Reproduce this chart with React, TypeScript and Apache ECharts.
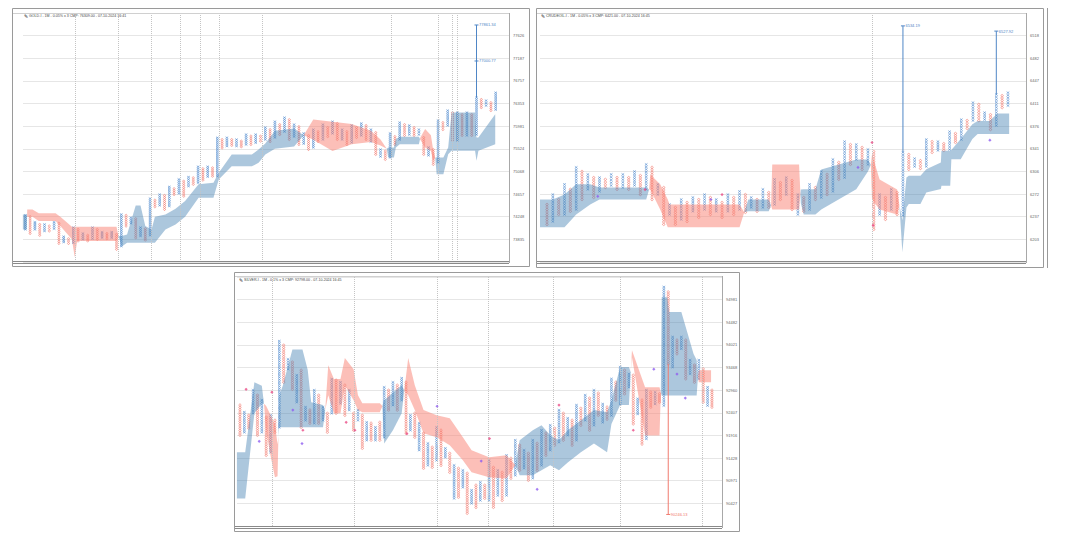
import React, { useEffect, useRef } from "react";
import * as echarts from "echarts";

// ---------------- GOLD ----------------
const goldTitle = "GOLD-I - 1M - 0.05% x 3 CMP: 76309.00 - 07-10-2024 16:41";
const goldTicks = ["73835", "74248", "74657", "75068", "75524", "75981", "76353", "76757", "77187", "77626"];
const goldTag = "76414.0";
const goldTagRow = 6.38;
const goldFirstType = 1; // 1 = X, 0 = O
const goldHigh = [1.06, 1.0, 0.76, 0.66, 0.66, 0.59, 0.76, 0.71, 0.12, 0.03, 0.52, 0.44, 0.26, 0.18, 0.52, 0.44, 0.32, 0.26, 0.32, 0.22, 1.1, 1.06, 0.96, 0.91, 0.52, 0.47, 1.8, 1.73, 1.98, 1.94, 2.32, 2.24, 2.65, 2.57, 2.75, 2.72, 3.21, 3.12, 3.21, 3.16, 4.49, 4.41, 4.49, 4.41, 4.41, 4.34, 4.63, 4.56, 4.63, 4.56, 4.94, 4.85, 5.2, 5.07, 5.38, 5.29, 5.07, 4.98, 4.68, 4.59, 4.85, 4.76, 5.07, 4.94, 5.2, 5.12, 4.85, 4.76, 5.03, 4.94, 5.12, 5.03, 4.85, 4.72, 3.97, 3.9, 4.68, 4.54, 5.16, 5.07, 5.03, 4.94, 4.85, 4.5, 4.06, 3.97, 5.25, 5.16, 5.69, 5.6, 5.6, 5.51, 5.6, 5.51, 6.26, 6.18, 6.13, 6.04, 6.48];
const goldLow = [0.44, 0.26, 0.44, 0.18, 0.37, 0.37, 0.47, -0.18, -0.12, -0.18, -0.15, -0.07, 0, -0.07, 0.03, 0, 0.07, 0.03, 0.07, -0.44, -0.3, 0.59, 0.71, 0.07, 0.15, -0.03, 0.18, 1.44, 1.5, 1.32, 1.47, 1.98, 2.03, 1.91, 2.35, 2.43, 2.5, 2.62, 2.77, 2.79, 2.79, 4.04, 4.12, 4.15, 4.12, 4.09, 4.19, 4.19, 4.27, 4.34, 4.41, 4.32, 4.5, 4.63, 4.76, 4.41, 4.54, 4.19, 4.23, 3.97, 4.06, 4.32, 4.41, 4.54, 4.68, 4.41, 4.41, 4.19, 4.28, 4.5, 4.59, 4.41, 4.32, 3.75, 3.66, 3.53, 3.62, 4.19, 4.41, 4.59, 4.63, 4.59, 4.63, 3.75, 3.71, 3.31, 3.4, 4.85, 5.03, 4.37, 4.37, 4.59, 4.59, 4.59, 4.63, 5.82, 5.91, 5.69, 5.73];
const goldCloudX = [-0.5, 0.3, 0.4, 1.5, 2.8, 6.3, 7.3, 9.7, 10.3, 10.8, 19.0, 19.4, 20.1, 21.2, 23, 24, 25, 26.3, 27, 29.2, 31.3, 33.3, 36.1, 39.2, 40.3, 43, 47.2, 48.6, 50, 52, 56, 58, 60, 64, 68, 72, 74, 75.3, 75.6, 76.8, 77.2, 78, 82, 82.3, 83.3, 84.5, 85, 85.4, 85.7, 87.1, 88.1, 88.8, 93.7, 94.0, 94.4, 97.9];
const goldSpanA = [1.1, 1.1, 1.0, 1.0, 0.81, 0.81, 0.59, 0.0, -0.79, -0.07, -0.07, 0.15, 0.15, 0.22, 1.5, 1.5, 0.59, 0.44, 1.0, 1.1, 1.35, 1.69, 2.43, 2.5, 2.94, 3.75, 3.75, 3.97, 4.23, 4.8, 4.9, 4.6, 4.4, 3.9, 4.2, 4.3, 4.15, 4.0, 4.06, 4.06, 4.43, 4.53, 4.53, 4.4, 4.06, 3.9, 3.47, 3.6, 3.62, 3.62, 4.06, 5.6, 5.6, 4.5, 4.5, 5.53];
const goldSpanB = [0.44, 0.44, 1.32, 1.32, 1.15, 1.15, 1.0, 0.56, 0.56, 0.56, 0.56, 0.15, -0.32, -0.15, -0.15, -0.15, -0.15, -0.15, -0.15, 0.44, 0.66, 1.0, 1.84, 1.84, 2.65, 3.23, 3.23, 3.38, 3.75, 4.0, 4.1, 4.6, 5.3, 5.2, 5.1, 4.8, 4.41, 4.0, 3.62, 3.62, 4.06, 4.2, 4.2, 4.5, 4.87, 4.6, 3.91, 3.6, 2.88, 2.88, 3.76, 3.91, 3.91, 3.47, 3.91, 4.2];
const goldMonthCols = [10.35, 19.3, 26.2, 32.2, 36.4, 40.4, 49.3, 76.2, 86, 88.9, 89.9];
const goldTargetLines = [[94, 6.26, 9.47]];
const goldTargetTicks: [number, number, string][] = [[94, 9.47, "77861.34"], [94, 7.88, "77000.77"]];
const goldSignals: [number, number, number][] = [];

// ---------------- CRUDE OIL ----------------
const crudeTitle = "CRUDEOIL-I - 1M - 0.05% x 3 CMP: 6421.00 - 07-10-2024 16:45";
const crudeTicks = ["6203", "6237", "6272", "6306", "6341", "6376", "6411", "6447", "6482", "6518"];
const crudeTag = "6427.00";
const crudeTagRow = 6.38;
const crudeFirstType = 0;
const crudeHigh = [1.54, 1.98, 1.76, 2.43, 2.21, 3.18, 3.0, 2.87, 2.73, 2.73, 2.65, 2.87, 2.73, 2.87, 2.73, 3.0, 2.82, 3.31, 3.18, 2.43, 2.29, 1.54, 1.41, 1.76, 1.63, 1.85, 1.76, 1.98, 1.85, 1.76, 1.63, 1.98, 1.85, 2.12, 1.98, 1.85, 1.76, 2.21, 2.07, 2.65, 2.51, 2.73, 2.6, 1.98, 1.85, 2.43, 2.29, 3.0, 2.87, 3.53, 3.4, 4.32, 4.19, 4.19, 4.06, 3.97, 3.88, 1.98, 1.85, 2.21, 2.07, 3.84, 3.75, 3.57, 3.48, 4.41, 4.32, 4.32, 4.23, 4.76, 4.68, 5.29, 5.25, 6.04, 5.96, 5.6, 5.51, 6.4, 6.35, 6.48];
const crudeLow = [0.66, 0.79, 1.1, 1.1, 1.24, 1.32, 1.76, 2.21, 1.85, 2.12, 2.29, 2.38, 2.21, 2.29, 2.21, 2.38, 1.98, 2.21, 1.76, 1.98, 0.66, 1.1, 0.66, 0.88, 0.79, 1.24, 0.97, 1.32, 1.1, 1.24, 0.97, 1.24, 1.1, 1.32, 1.19, 1.41, 1.24, 1.41, 1.41, 1.54, 1.76, 1.98, 1.32, 1.1, 1.24, 1.32, 1.76, 1.85, 1.98, 2.12, 2.65, 2.73, 3.31, 3.53, 3.09, 3.31, 0.44, 1.1, 0.88, 1.32, 1.1, 1.06, 3.09, 3.22, 3.13, 3.22, 3.84, 3.93, 3.93, 3.97, 4.28, 4.41, 4.9, 5.25, 5.25, 5.29, 4.85, 5.03, 5.82, 5.91];
const crudeCloudX = [-1.2, 1, 3, 5, 7.4, 9, 17, 17.5, 17.7, 19.4, 20.7, 21, 33, 33.8, 34.5, 38, 38.4, 38.6, 43.2, 43.5, 44, 46, 47, 53, 55, 55.5, 55.7, 57, 60, 60.4, 60.9, 61.6, 62, 64, 65, 67.5, 67.6, 69.1, 69.3, 70.9, 72.9, 73.8, 75.8, 77.2, 79.2];
const crudeSpanA = [1.76, 1.76, 1.98, 2.43, 2.43, 2.29, 2.29, 2.2, 2.2, 1.32, 0.53, 0.53, 0.53, 1.2, 1.76, 1.76, 1.5, 1.32, 1.32, 2.2, 2.21, 2.21, 3.09, 3.53, 3.53, 3.3, 1.76, 1.32, 1.1, 1.5, 0.84, 2.73, 2.81, 2.81, 3.1, 3.4, 3.91, 3.91, 3.95, 4.43, 5.09, 5.23, 5.23, 5.56, 5.56];
const crudeSpanB = [0.53, 0.53, 0.53, 1.1, 1.54, 1.76, 1.76, 2.2, 2.87, 2.43, 1.76, 1.54, 1.54, 1.2, 1.24, 1.24, 1.5, 3.31, 3.31, 1.6, 1.1, 1.1, 1.32, 2.21, 3.0, 3.3, 3.75, 2.65, 2.2, 1.5, -0.57, 1.41, 1.56, 1.56, 2.07, 2.22, 2.37, 2.37, 3.54, 3.54, 4.43, 4.65, 4.65, 4.65, 4.65];
const crudeMonthCols = [55.7];
const crudeTargetLines = [[61, 3.84, 9.43], [77, 6.4, 9.2]];
const crudeTargetTicks: [number, number, string][] = [[61, 9.43, "6534.19"], [77, 9.2, "6527.92"]];
// [column, row, kind] kind 0 = pink, 1 = purple
const crudeSignals: [number, number, number][] = [[8.7, 1.9, 1], [16.8, 2.2, 0], [28.1, 1.76, 1], [30, 1.98, 0], [53.3, 3.18, 1], [55.7, 4.28, 0], [55.9, 0.62, 0], [75.9, 4.38, 1]];

// ---------------- SILVER ----------------
const silverTitle = "SILVER-I - 1M - 0.1% x 3 CMP: 92798.00 - 07-10-2024 16:45";
const silverTicks = ["90427", "90971", "91428", "91916", "92407", "92960", "93468", "94021", "94482", "94981"];
const silverTag = "92623.0";
const silverTagRow = 4.2;
const silverFirstType = 0;
const silverHigh = [4.34, 4.03, 3.89, 5.0, 4.78, 4.56, 3.81, 3.89, 3.67, 7.17, 6.99, 6.37, 6.24, 5.66, 5.88, 4.25, 4.12, 5.0, 4.78, 4.25, 3.98, 5.49, 5.44, 5.35, 5.22, 5.0, 3.98, 4.12, 3.89, 3.58, 3.54, 3.36, 3.58, 5.13, 5.0, 5.35, 5.22, 5.53, 5.35, 3.89, 3.98, 3.54, 3.1, 2.65, 2.48, 3.36, 3.23, 2.43, 2.21, 1.68, 1.55, 1.46, 1.33, 0.58, 0.8, 0.93, 0.8, 1.9, 1.59, 1.46, 1.37, 2.12, 1.99, 2.79, 2.57, 2.35, 2.21, 2.79, 2.65, 3.23, 3.1, 3.45, 3.32, 4.12, 3.98, 3.76, 3.67, 4.34, 4.2, 4.78, 4.65, 5.0, 4.87, 4.39, 4.25, 5.5, 5.35, 6.02, 5.88, 5.72, 5.66, 4.62, 4.56, 5.0, 4.91, 4.91, 4.84, 9.56, 9.34, 7.35, 7.21, 7.35, 7.21, 6.33, 6.11, 6.33, 5.94, 5.13, 5.0];
const silverLow = [3.01, 3.14, 3.32, 3.98, 3.01, 3.14, 2.12, 2.26, 3.14, 3.36, 5.35, 5.93, 5.04, 4.47, 3.36, 3.67, 3.54, 3.54, 3.54, 3.67, 3.14, 3.98, 3.98, 4.42, 3.89, 4.12, 3.23, 3.67, 2.43, 2.79, 2.79, 2.79, 2.79, 2.92, 4.12, 4.34, 4.12, 4.56, 3.1, 3.23, 2.92, 2.35, 1.55, 1.68, 1.59, 1.9, 1.68, 2.04, 1.37, 0.22, 0.27, 0.71, -0.44, 0, -0.18, 0.13, 0.22, 0.13, -0.18, 0.35, 0.13, 0.35, 1.11, 1.24, 1.46, 1.55, 1.02, 1.11, 1.46, 1.68, 2.12, 2.35, 2.57, 2.7, 2.79, 3.01, 2.57, 2.79, 3.45, 3.67, 3.23, 3.45, 3.89, 3.58, 3.72, 3.88, 4.56, 4.39, 4.84, 5.13, 3.51, 3.95, 2.62, 2.85, 4.25, 4.39, 4.47, 4.32, 6.16, 6.02, 6.61, 6.83, 5.5, 5.72, 5.35, 5.5, 4.47, 4.32, 4.25];
const silverCloudX = [0.3, 2.2, 4.3, 6, 6.5, 7, 8, 9, 9.6, 10, 10.8, 13, 15.3, 16.5, 17.3, 20, 20.5, 21.2, 22.5, 24, 25, 27, 28, 29, 33, 33.6, 34, 36, 38, 38.6, 39.5, 41, 43, 46, 49, 52, 54, 58, 62, 64, 65, 68, 70, 72, 74, 76, 79, 82, 85, 86, 88, 90, 90.4, 90.7, 93.7, 97.0, 97.3, 97.5, 98.8, 99.2, 102, 104.8, 105.5, 105.8, 106, 108.8];
const silverSpanA = [2.26, 2.26, 5.35, 5.2, 4.4, 3.2, 2.1, 1.15, 1.2, 4.78, 5.2, 6.8, 6.8, 5.9, 4.47, 4.34, 4.1, 4.78, 3.98, 3.98, 5.22, 4.56, 4.12, 4.03, 4.03, 4.3, 4.56, 4.9, 5.22, 5.0, 4.78, 4.12, 3.1, 2.92, 2.57, 1.9, 1.37, 1.15, 1.1, 1.7, 2.79, 3.23, 3.45, 3.01, 2.79, 3.23, 3.67, 4.12, 4.03, 4.56, 6.02, 6.02, 5.8, 6.46, 3.0, 3.0, 4.9, 9.1, 9.1, 8.45, 8.45, 6.6, 6.33, 5.6, 5.35, 5.35];
const silverSpanB = [0.22, 0.22, 3.98, 4.4, 4.4, 4.3, 3.9, 3.5, 2.6, 3.36, 3.36, 3.36, 3.36, 3.36, 3.36, 3.36, 4.1, 6.1, 5.49, 5.49, 6.42, 5.93, 4.78, 4.42, 4.42, 4.3, 2.65, 3.23, 3.98, 5.0, 6.42, 5.22, 4.12, 3.89, 3.76, 2.92, 2.35, 2.04, 2.12, 1.7, 1.24, 1.24, 1.46, 1.68, 1.46, 1.81, 2.26, 2.65, 2.26, 3.51, 4.34, 4.34, 5.8, 6.76, 5.13, 5.13, 4.9, 4.76, 4.76, 4.76, 4.76, 4.76, 4.76, 5.6, 5.88, 5.88];
const silverMonthCols = [8.3, 27.1, 46.1, 57.8, 72.6, 88.0, 106.7];
const silverTargetLines = [[99, 6.16, -0.49]];
const silverTargetTicks: [number, number, string][] = [[99, -0.49, "90246.13"]];
const silverSignals: [number, number, number][] = [[2.4, 5.04, 0], [5.4, 2.74, 1], [8.3, 4.91, 0], [13.1, 4.12, 1], [15.4, 3.23, 0], [15.2, 2.64, 1], [25.3, 3.58, 0], [27.3, 3.23, 0], [39.2, 3.08, 0], [46.1, 4.29, 1], [56.2, 1.87, 1], [58.1, 2.86, 0], [69, 0.62, 1], [74, 4.34, 0], [91, 3.23, 0], [95.7, 5.93, 1], [101, 5.71, 1], [102.9, 4.65, 1]];

// ---------------- styling / layout ----------------
const X_COLOR = "#4a86cc";
const O_COLOR = "#f2756a";
const CLOUD_UP = "rgba(70,130,180,0.45)";
const CLOUD_DN = "rgba(250,128,114,0.5)";
const FONT = "Liberation Sans, Arial, sans-serif";

type PanelCfg = {
  title: string;
  ticks: string[];
  tag: string;
  tagRow: number;
  firstType: number;
  start: number;
  high: number[];
  low: number[];
  cloudX: number[];
  spanA: number[];
  spanB: number[];
  months: number[];
  targetLines: number[][];
  targetTicks: [number, number, string][];
  signals: [number, number, number][];
  box: number;
  targetColor: string;
  grid: { left: number; top: number; width: number; height: number };
  xMin: number;
  xMax: number;
};

const panels: PanelCfg[] = [
  {
    title: goldTitle, ticks: goldTicks, tag: goldTag, tagRow: goldTagRow, firstType: goldFirstType, start: 0,
    high: goldHigh, low: goldLow, cloudX: goldCloudX, spanA: goldSpanA, spanB: goldSpanB, months: goldMonthCols,
    targetLines: goldTargetLines, targetTicks: goldTargetTicks, signals: goldSignals, box: 0.09, targetColor: "#4f86c6",
    grid: { left: 23, top: 13, width: 486, height: 249 }, xMin: -0.48, xMax: 100.77,
  },
  {
    title: crudeTitle, ticks: crudeTicks, tag: crudeTag, tagRow: crudeTagRow, firstType: crudeFirstType, start: 0,
    high: crudeHigh, low: crudeLow, cloudX: crudeCloudX, spanA: crudeSpanA, spanB: crudeSpanB, months: crudeMonthCols,
    targetLines: crudeTargetLines, targetTicks: crudeTargetTicks, signals: crudeSignals, box: 0.11, targetColor: "#4f86c6",
    grid: { left: 540, top: 13, width: 486, height: 249 }, xMin: -1.2, xMax: 82.09,
  },
  {
    title: silverTitle, ticks: silverTicks, tag: silverTag, tagRow: silverTagRow, firstType: silverFirstType, start: 1,
    high: silverHigh, low: silverLow, cloudX: silverCloudX, spanA: silverSpanA, spanB: silverSpanB, months: silverMonthCols,
    targetLines: silverTargetLines, targetTicks: silverTargetTicks, signals: silverSignals, box: 0.1, targetColor: "#f07a6e",
    grid: { left: 237, top: 277, width: 485, height: 249 }, xMin: 0.32, xMax: 111.3,
  },
];

function cloudRuns(xs: number[], as: number[], bs: number[]) {
  const runs: { up: boolean; pts: number[][] }[] = [];
  let cur: { up: boolean; pts: number[][] } | null = null;
  for (let i = 0; i < xs.length; i++) {
    const d = as[i] - bs[i];
    if (i > 0) {
      const dp = as[i - 1] - bs[i - 1];
      if (dp * d < 0) {
        const t = dp / (dp - d);
        const xm = xs[i - 1] + t * (xs[i] - xs[i - 1]);
        const am = as[i - 1] + t * (as[i] - as[i - 1]);
        if (cur) cur.pts.push([xm, am, am]);
        cur = { up: d > 0, pts: [[xm, am, am]] };
        runs.push(cur);
      }
    }
    const up = d > 0 ? true : d < 0 ? false : cur ? cur.up : true;
    if (!cur) {
      cur = { up, pts: [] };
      runs.push(cur);
    }
    if (cur.up !== up && d !== 0) {
      cur = { up, pts: [cur.pts[cur.pts.length - 1]] };
      runs.push(cur);
    }
    cur.pts.push([xs[i], as[i], bs[i]]);
  }
  return runs.filter((r) => r.pts.length >= 2);
}

function buildOption() {
  const grids: any[] = [];
  const xAxes: any[] = [];
  const yAxes: any[] = [];
  const series: any[] = [];

  panels.forEach((p, pi) => {
    grids.push({ ...p.grid, show: false });
    xAxes.push({
      type: "value", gridIndex: pi, min: p.xMin, max: p.xMax,
      axisLine: { show: false }, axisTick: { show: false }, axisLabel: { show: false }, splitLine: { show: false },
    });
    yAxes.push({
      type: "value", gridIndex: pi, position: "right", min: -1, max: 10, interval: 1,
      axisLine: { show: false }, axisTick: { show: false },
      axisLabel: {
        show: true, fontSize: 4, color: "#666", margin: 4, fontFamily: FONT,
        formatter: (v: number) => {
          const i = Math.round(v);
          return i >= 0 && i < p.ticks.length ? p.ticks[i] : "";
        },
      },
      splitLine: { show: true, lineStyle: { color: "#e6e6e6", width: 1 } },
    });

    // month separators
    series.push({
      type: "line", xAxisIndex: pi, yAxisIndex: pi, data: [], silent: true,
      markLine: {
        silent: true, symbol: "none", animation: false,
        lineStyle: { color: "#c4c4c4", type: "dotted", width: 1 },
        label: { show: false },
        data: p.months.map((m) => ({ xAxis: m })),
      },
      z: 1,
    });
    // CMP tag
    series.push({
      type: "line", xAxisIndex: pi, yAxisIndex: pi, data: [], silent: true,
      markLine: {
        silent: true, symbol: "none", animation: false,
        lineStyle: { width: 0, opacity: 0 },
        label: {
          show: true, position: "end", distance: 2, formatter: p.tag, fontSize: 4.5, fontFamily: FONT,
          color: "#5a3a00", backgroundColor: "#f5a623", padding: [1, 2], borderRadius: 1,
        },
        data: [{ yAxis: p.tagRow }],
      },
      z: 6,
    });

    // P&F columns
    const box = p.box;
    const colData = p.high.map((h, i) => [p.start + i, p.low[i], h, (i % 2 === 0) === (p.firstType === 1) ? 1 : 0]);
    series.push({
      type: "custom", xAxisIndex: pi, yAxisIndex: pi, data: colData, silent: true, z: 2,
      encode: { x: 0, y: [1, 2] },
      renderItem: (params: any, api: any) => {
        const x = api.value(0), lo = api.value(1), hi = api.value(2), t = api.value(3);
        const pl = api.coord([x, lo]);
        const ph = api.coord([x, hi]);
        const bp = Math.abs(api.size([0, box])[1]);
        const span = pl[1] - ph[1];
        const n = Math.max(1, Math.round(span / bp) + 1);
        const step = n > 1 ? span / (n - 1) : 0;
        const cx = pl[0];
        const children: any[] = [];
        for (let b = 0; b < n; b++) {
          const cy = pl[1] - b * step;
          if (t === 1) {
            const hw = 1.3, hh = Math.min(1.05, bp * 0.48);
            children.push({ type: "line", shape: { x1: cx - hw, y1: cy - hh, x2: cx + hw, y2: cy + hh }, style: { stroke: X_COLOR, lineWidth: 0.6 } });
            children.push({ type: "line", shape: { x1: cx - hw, y1: cy + hh, x2: cx + hw, y2: cy - hh }, style: { stroke: X_COLOR, lineWidth: 0.6 } });
          } else {
            children.push({ type: "circle", shape: { cx, cy, r: Math.min(1.15, bp * 0.5) }, style: { stroke: O_COLOR, fill: "none", lineWidth: 0.6 } });
          }
        }
        return { type: "group", children };
      },
    });

    // cloud
    const runs = cloudRuns(p.cloudX, p.spanA, p.spanB);
    series.push({
      type: "custom", xAxisIndex: pi, yAxisIndex: pi, silent: true, z: 3,
      data: runs.map((r) => [r.pts[0][0], r.pts[0][1]]),
      encode: { x: 0, y: 1 },
      renderItem: (params: any, api: any) => {
        const r = runs[params.dataIndex];
        const pts: number[][] = [];
        r.pts.forEach((q) => pts.push(api.coord([q[0], q[1]])));
        for (let i = r.pts.length - 1; i >= 0; i--) pts.push(api.coord([r.pts[i][0], r.pts[i][2]]));
        return { type: "polygon", shape: { points: pts }, style: { fill: r.up ? CLOUD_UP : CLOUD_DN } };
      },
    });

    // target lines
    series.push({
      type: "custom", xAxisIndex: pi, yAxisIndex: pi, silent: true, z: 4,
      data: p.targetLines,
      encode: { x: 0, y: [1, 2] },
      renderItem: (params: any, api: any) => {
        const a = api.coord([api.value(0), api.value(1)]);
        const b = api.coord([api.value(0), api.value(2)]);
        return { type: "line", shape: { x1: a[0], y1: a[1], x2: b[0], y2: b[1] }, style: { stroke: p.targetColor, lineWidth: 1 } };
      },
    });
    series.push({
      type: "custom", xAxisIndex: pi, yAxisIndex: pi, silent: true, z: 4,
      data: p.targetTicks.map((t) => [t[0], t[1]]),
      encode: { x: 0, y: 1 },
      renderItem: (params: any, api: any) => {
        const c = api.coord([api.value(0), api.value(1)]);
        const label = p.targetTicks[params.dataIndex][2];
        return {
          type: "group",
          children: [
            { type: "line", shape: { x1: c[0] - 2, y1: c[1], x2: c[0] + 2, y2: c[1] }, style: { stroke: p.targetColor, lineWidth: 1 } },
            { type: "text", style: { text: label, x: c[0] + 2.5, y: c[1], fill: p.targetColor, fontSize: 4, fontFamily: FONT, verticalAlign: "middle", align: "left" } },
          ],
        };
      },
    });

    // signals
    series.push({
      type: "scatter", xAxisIndex: pi, yAxisIndex: pi, silent: true, z: 5,
      symbol: "diamond", symbolSize: 3.2,
      data: p.signals.map((s) => ({ value: [s[0], s[1]], itemStyle: { color: s[2] === 0 ? "#ea4b86" : "#8f5cf0" } })),
    });
  });

  const frame = (x: number, y: number, w: number, h: number, stroke: string) => ({
    type: "rect", shape: { x, y, width: w, height: h }, style: { fill: "none", stroke, lineWidth: 1 }, silent: true, z: 10,
  });
  const hline = (x1: number, x2: number, y: number, stroke: string) => ({
    type: "line", shape: { x1, y1: y, x2, y2: y }, style: { stroke, lineWidth: 1 }, silent: true, z: 10,
  });
  const vline = (x: number, y1: number, y2: number, stroke: string) => ({
    type: "line", shape: { x1: x, y1, x2: x, y2 }, style: { stroke, lineWidth: 1 }, silent: true, z: 10,
  });
  const titleText = (x: number, y: number, text: string) => ({
    type: "group", silent: true, z: 10,
    children: [
      { type: "text", style: { text: "✎", x, y, fill: "#222", fontSize: 5, fontFamily: "DejaVu Sans", verticalAlign: "middle" } },
      { type: "text", style: { text, x: x + 5, y, fill: "#444", fontSize: 3.6, fontFamily: FONT, verticalAlign: "middle" } },
    ],
  });

  const graphic = [
    frame(12.5, 8.5, 517, 258, "#9a9a9a"),
    hline(13, 509, 13.5, "#d0d0d0"),
    vline(509.5, 13, 263, "#a8a8a8"),
    hline(13, 509, 261.5, "#8a8a8a"),
    hline(13, 509, 263.5, "#8a8a8a"),
    titleText(24, 15.5, panels[0].title),
    frame(536.5, 8.5, 507, 259, "#9a9a9a"),
    vline(1047.5, 8, 268, "#9a9a9a"),
    hline(537, 1026, 13.5, "#d0d0d0"),
    vline(1026.5, 13, 263, "#a8a8a8"),
    hline(537, 1026, 261.5, "#8a8a8a"),
    hline(537, 1026, 263.5, "#8a8a8a"),
    titleText(541, 15.5, panels[1].title),
    frame(234.5, 272.5, 505, 259, "#9a9a9a"),
    hline(235, 722, 276.5, "#d0d0d0"),
    vline(722.5, 276, 528, "#a8a8a8"),
    hline(235, 722, 526.5, "#8a8a8a"),
    hline(235, 722, 528.5, "#8a8a8a"),
    titleText(239, 279.5, panels[2].title),
  ];

  return {
    animation: false,
    backgroundColor: "#ffffff",
    grid: grids,
    xAxis: xAxes,
    yAxis: yAxes,
    series,
    graphic,
  };
}

export default function App() {
  const ref = useRef<HTMLDivElement>(null);
  useEffect(() => {
    document.body.style.margin = "0";
    if (!ref.current) return;
    const chart = echarts.init(ref.current, undefined, { renderer: "svg" });
    chart.setOption(buildOption() as any);
    return () => chart.dispose();
  }, []);
  return <div ref={ref} style={{ width: 1080, height: 543 }} />;
}
